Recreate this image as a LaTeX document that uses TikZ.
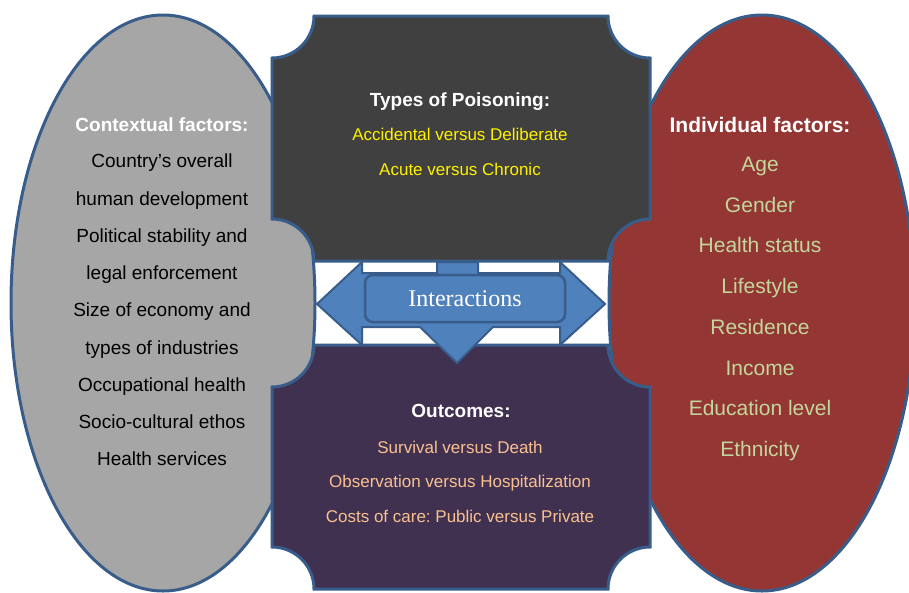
\documentclass[tikz,border=0pt]{standalone}
\usepackage{fontspec}
\setmainfont{Liberation Sans}
\newfontfamily\interfont{Liberation Serif}
\usetikzlibrary{positioning}
\frenchspacing

\definecolor{edgeblue}{HTML}{385D8A}
\definecolor{arrowblue}{HTML}{4F81BD}
\definecolor{ctxgray}{HTML}{A6A6A6}
\definecolor{indred}{HTML}{943634}
\definecolor{poisongray}{HTML}{404040}
\definecolor{outpurple}{HTML}{403151}
\definecolor{outorange}{HTML}{FAC090}
\definecolor{indgreen}{HTML}{C3D69B}

\begin{document}
\begin{tikzpicture}[x=1pt,y=-1pt,
    border/.style={draw=edgeblue, line width=3pt},
    line/.style={inner sep=0pt, text depth=0pt},
    hdr/.style={line, text=white, text height=13.7pt, font=\bfseries\fontsize{19}{19}\selectfont},
    hdrbig/.style={line, text=white, text height=15.1pt, font=\bfseries\fontsize{21}{21}\selectfont},
    poisontxt/.style={line, text=yellow, text height=12.2pt, font=\fontsize{17}{17}\selectfont},
    outtxt/.style={line, text=outorange, text height=12.2pt, font=\fontsize{17}{17}\selectfont},
    ctxtxt/.style={line, text=black, text height=13.7pt, font=\fontsize{19}{19}\selectfont},
    indtxt/.style={line, text=indgreen, text height=15.1pt, font=\fontsize{21}{21}\selectfont},
    interbox/.style={draw=edgeblue, line width=2.5pt, fill=arrowblue, rounded corners=8pt,
        minimum width=200pt, minimum height=47pt, inner sep=0pt,
        text=white, font=\interfont\fontsize{24}{24}\selectfont}]
	\useasboundingbox (0,0) rectangle (909,592);
	\fill[white] (0,0) rectangle (909,592);
	% side ovals
	\draw[border, fill=ctxgray] (163,303) ellipse [x radius=152, y radius=288];
	\draw[border, fill=indred] (762,303) ellipse [x radius=153, y radius=288];
	% top and bottom plaques
	\draw[border, fill=poisongray] (314,16) -- (608,16) arc[start angle=180, end angle=90, radius=42]
		-- (650,219) arc[start angle=270, end angle=180, radius=42]
		-- (314,261) arc[start angle=0, end angle=-90, radius=42]
		-- (272,58) arc[start angle=90, end angle=0, radius=42] -- cycle;
	\draw[border, fill=outpurple] (314,345) -- (608,345) arc[start angle=180, end angle=90, radius=42]
		-- (650,547) arc[start angle=270, end angle=180, radius=42]
		-- (314,589) arc[start angle=0, end angle=-90, radius=42]
		-- (272,387) arc[start angle=90, end angle=0, radius=42] -- cycle;
	% three-way arrow
	\draw[edgeblue, line width=2pt, fill=arrowblue] (317,304) -- (362,262) -- (362,273) -- (437,273)
		-- (437,262) -- (478,262) -- (478,273) -- (560,273) -- (560,262) -- (605,304) -- (560,345)
		-- (560,327) -- (493,327) -- (457,363) -- (420,327) -- (362,327) -- (362,345) -- cycle;
	\node[interbox] (inter) at (465,298.5) {Interactions};
	
	% texts
	\node[hdr] (poison) at (460,100) {Types of Poisoning:};
	\node[poisontxt] (poison-1) at (460,134) {Accidental versus Deliberate};
	\node[poisontxt] (poison-2) at (460,169) {Acute versus Chronic};
	
	\node[hdr] (out) at (461,411) {Outcomes:};
	\foreach \txt [count=\i] in {Survival versus Death, Observation versus Hospitalization,
		Costs of care: Public versus Private}
		\node[outtxt] (out-\i) at (460,{447+(\i-1)*34.5}) {\txt};
	
	\node[hdr] (ctx) at (162,125) {Contextual factors:};
	\foreach \txt [count=\i] in {Country’s overall, human development, Political stability and,
		legal enforcement, Size of economy and, types of industries, Occupational health,
		Socio-cultural ethos, Health services}
		\node[ctxtxt] (ctx-\i) at (162,{161+(\i-1)*37.25}) {\txt};
	
	\node[hdrbig] (ind) at (760,125) {Individual factors:};
	\foreach \txt [count=\i] in {Age, Gender, Health status, Lifestyle, Residence, Income,
		Education level, Ethnicity}
		\node[indtxt] (ind-\i) at (760,{164+(\i-1)*40.7}) {\txt};
\end{tikzpicture}
\end{document}
